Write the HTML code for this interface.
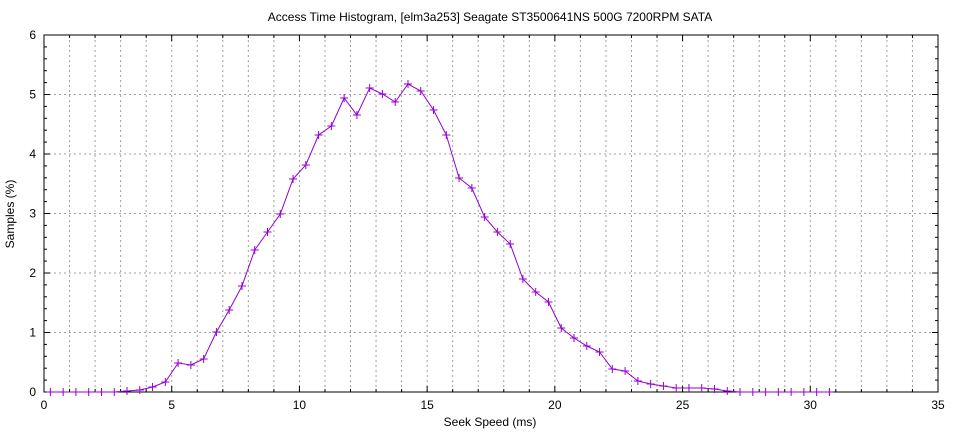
<!DOCTYPE html>
<html><head><meta charset="utf-8"><style>
body{margin:0;background:#fff}
svg{font-family:"Liberation Sans",sans-serif;font-size:12px}
</style></head><body>
<svg id="s" width="960" height="432" xmlns="http://www.w3.org/2000/svg">
<rect width="960" height="432" fill="#fff"/>
<text x="490" y="21" text-anchor="middle">Access Time Histogram, [elm3a253] Seagate ST3500641NS 500G 7200RPM SATA</text>
<text x="490" y="426" text-anchor="middle">Seek Speed (ms)</text>
<text transform="translate(14,214) rotate(-90)" text-anchor="middle">Samples (%)</text>
<g id="g"></g>
</svg>
<script>
var g=document.getElementById('g'),h='';
function X(v){return 44+v*894/35}function Y(v){return 392-v*357/6}
for(var i=1;i<35;i++){var x=X(i);h+='<line x1="'+x+'" y1="35" x2="'+x+'" y2="392" stroke="#a0a0a0" stroke-dasharray="2,3"/>';}
for(var j=1;j<6;j++){var y=Y(j);h+='<line x1="44" y1="'+y+'" x2="938" y2="'+y+'" stroke="#a0a0a0" stroke-dasharray="2,3"/>';}
for(var i=0;i<=35;i++){var x=X(i);var L=i%5==0?6:3;h+='<line x1="'+x+'" y1="392" x2="'+x+'" y2="'+(392-L)+'" stroke="#000"/><line x1="'+x+'" y1="35" x2="'+x+'" y2="'+(35+L)+'" stroke="#000"/>';if(i%5==0)h+='<text x="'+x+'" y="409" text-anchor="middle">'+i+'</text>';}
for(var j=0;j<=30;j++){var y=Y(j/5);var L=j%5==0?6:3;h+='<line x1="44" y1="'+y+'" x2="'+(44+L)+'" y2="'+y+'" stroke="#000"/><line x1="938" y1="'+y+'" x2="'+(938-L)+'" y2="'+y+'" stroke="#000"/>';if(j%5==0)h+='<text x="36" y="'+(y+4)+'" text-anchor="end">'+(j/5)+'</text>';}
h+='<rect x="44" y="35" width="894" height="357" fill="none" stroke="#000"/>';
var ys=[392,392,392,392,392,392,391,390,387,382,363,365,359,332,310,286,250,232,214,179,165,135,126,98,115,88,94,102,84,91,110,135,178,188,217,232,244,279,292,302,328,338,346,352,369,371,381,384,386,388,388,388,389,391,392,392,392,392,392,392,392,392];
var p=[];for(var k=0;k<ys.length;k++){var x=X(0.25+0.5*k);p.push(x.toFixed(1)+','+ys[k]);h+='<path d="M'+(x-4)+' '+ys[k]+'h8M'+x+' '+(ys[k]-4)+'v8" stroke="#9400d3" stroke-width="1"/>';}
h+='<polyline points="'+p.join(' ')+'" fill="none" stroke="#9400d3" stroke-width="1"/>';
g.innerHTML=h;
</script>
</body></html>
